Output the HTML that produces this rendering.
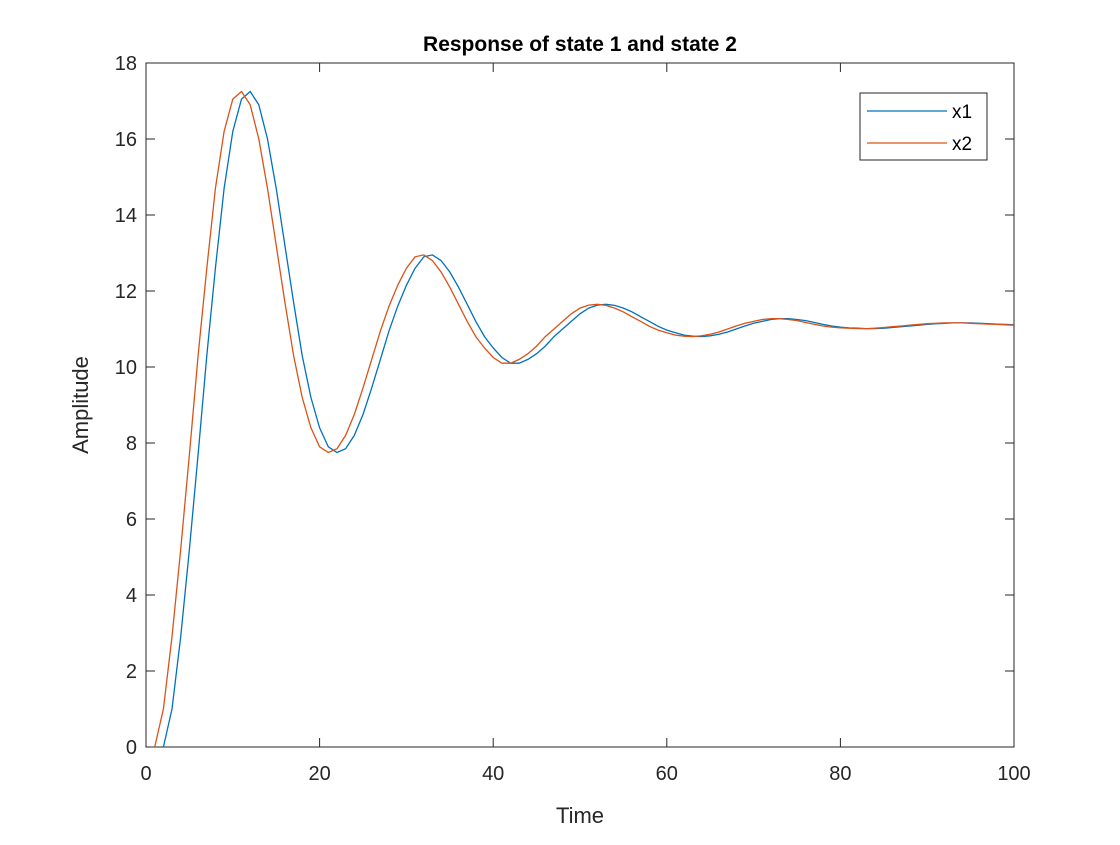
<!DOCTYPE html>
<html><head><meta charset="utf-8"><style>
body{margin:0;background:#fff}
svg text{font-family:"Liberation Sans",Arial,sans-serif;fill:#262626}
</style></head><body>
<svg id="chart" width="1120" height="840" xmlns="http://www.w3.org/2000/svg">
<rect width="1120" height="840" fill="#fff"/>
<g id="axes"></g>
<g id="series"></g>
<text x="580" y="51" text-anchor="middle" font-size="21" font-weight="bold" style="fill:#000">Response of state 1 and state 2</text>
<text x="580" y="823" text-anchor="middle" font-size="22">Time</text>
<text transform="translate(88,405) rotate(-90)" text-anchor="middle" font-size="22">Amplitude</text>
<g>
<rect x="860" y="93" width="127" height="67" fill="#fff" stroke="#262626" stroke-width="1"/>
<line x1="867" y1="111" x2="947" y2="111" stroke="#0072BD" stroke-width="1.3"/>
<text x="952" y="118" font-size="19" style="fill:#000">x1</text>
<line x1="867" y1="143" x2="947" y2="143" stroke="#D95319" stroke-width="1.3"/>
<text x="952" y="150" font-size="19" style="fill:#000">x2</text>
</g>
</svg>
<script>
const xTicks=[0,20,40,60,80,100];
const yTicks=[0,2,4,6,8,10,12,14,16,18];
const x2Time=[1,2,3,4,5,6,7,8,9,10,11,12,13,14,15,16,17,18,19,20,21,22,23,24,25,26,27,28,29,30,31,32,33,34,35,36,37,38,39,40,41,42,43,44,45,46,47,48,49,50,51,52,53,54,55,56,57,58,59,60,61,62,63,64,65,66,67,68,69,70,71,72,73,74,75,76,77,78,79,80,81,82,83,84,85,86,87,88,89,90,91,92,93,94,95,96,97,98,99,100];
const x2Vals=[0,1.0,2.9,5.2,7.7,10.3,12.6,14.7,16.2,17.05,17.25,16.9,16.0,14.7,13.2,11.7,10.3,9.2,8.4,7.9,7.75,7.85,8.2,8.75,9.45,10.2,10.95,11.6,12.15,12.6,12.9,12.95,12.8,12.5,12.1,11.65,11.2,10.8,10.5,10.25,10.1,10.1,10.2,10.35,10.55,10.8,11.0,11.2,11.4,11.55,11.63,11.65,11.62,11.55,11.45,11.32,11.2,11.07,10.97,10.9,10.84,10.81,10.8,10.82,10.86,10.92,11.0,11.08,11.15,11.2,11.25,11.27,11.27,11.25,11.22,11.17,11.12,11.08,11.05,11.03,11.02,11.01,11.01,11.02,11.04,11.06,11.08,11.1,11.12,11.14,11.15,11.16,11.16,11.16,11.15,11.14,11.13,11.12,11.11,11.1];
const x1Time=[2,3,4,5,6,7,8,9,10,11,12,13,14,15,16,17,18,19,20,21,22,23,24,25,26,27,28,29,30,31,32,33,34,35,36,37,38,39,40,41,42,43,44,45,46,47,48,49,50,51,52,53,54,55,56,57,58,59,60,61,62,63,64,65,66,67,68,69,70,71,72,73,74,75,76,77,78,79,80,81,82,83,84,85,86,87,88,89,90,91,92,93,94,95,96,97,98,99,100];
const x1Vals=[0,1.0,2.9,5.2,7.7,10.3,12.6,14.7,16.2,17.05,17.25,16.9,16.0,14.7,13.2,11.7,10.3,9.2,8.4,7.9,7.75,7.85,8.2,8.75,9.45,10.2,10.95,11.6,12.15,12.6,12.9,12.95,12.8,12.5,12.1,11.65,11.2,10.8,10.5,10.25,10.1,10.1,10.2,10.35,10.55,10.8,11.0,11.2,11.4,11.55,11.63,11.65,11.62,11.55,11.45,11.32,11.2,11.07,10.97,10.9,10.84,10.81,10.8,10.82,10.86,10.92,11.0,11.08,11.15,11.2,11.25,11.27,11.27,11.25,11.22,11.17,11.12,11.08,11.05,11.03,11.02,11.01,11.01,11.02,11.04,11.06,11.08,11.1,11.12,11.14,11.15,11.16,11.16,11.16,11.15,11.14,11.13,11.12,11.11];
const L=146,R=1014,T=63,B=747;
const sx=v=>L+(v-0)/(100-0)*(R-L);
const sy=v=>B-(v-0)/(18-0)*(B-T);
const NS="http://www.w3.org/2000/svg";
const axes=document.getElementById('axes');
function mk(tag,attrs,parent){const e=document.createElementNS(NS,tag);for(const k in attrs)e.setAttribute(k,attrs[k]);parent.appendChild(e);return e;}
const frame=mk('rect',{x:L,y:T,width:R-L,height:B-T,fill:'none',stroke:'#262626','stroke-width':1},axes);


xTicks.forEach(v=>{
  const x=sx(v);
  const t1=mk('line',{x1:x,y1:B,x2:x,y2:B-9,stroke:'#262626'},axes);
  
  
  const t2=mk('line',{x1:x,y1:T,x2:x,y2:T+9,stroke:'#262626'},axes);
  
  
  const lb=mk('text',{x:x,y:B+33,'text-anchor':'middle','font-size':20},axes);
  lb.textContent=v;
  
  
});
yTicks.forEach(v=>{
  const y=sy(v);
  const t1=mk('line',{x1:L,y1:y,x2:L+9,y2:y,stroke:'#262626'},axes);
  
  
  const t2=mk('line',{x1:R,y1:y,x2:R-9,y2:y,stroke:'#262626'},axes);
  
  
  const lb=mk('text',{x:L-9,y:y+7,'text-anchor':'end','font-size':20},axes);
  lb.textContent=v;
  
  
});
const ser=document.getElementById('series');
function line(ts,vs,color,name){
  const d=ts.map((t,i)=>(i?'L':'M')+sx(t).toFixed(1)+' '+sy(vs[i]).toFixed(1)).join(' ');
  const p=mk('path',{d:d,fill:'none',stroke:color,'stroke-width':1.3},ser);
  
  
}
line(x1Time,x1Vals,'#0072BD','series-x1');
line(x2Time,x2Vals,'#D95319','series-x2');
</script>
</body></html>
